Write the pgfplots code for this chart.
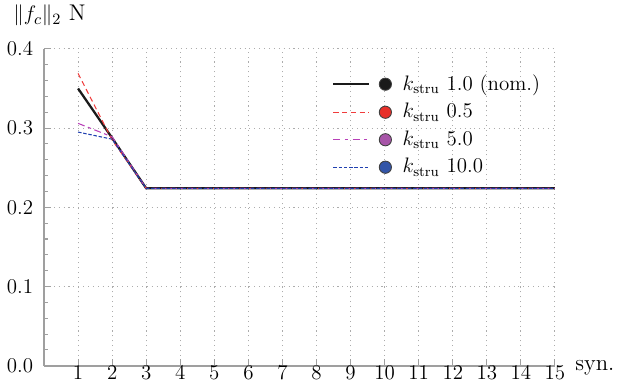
\documentclass[border=0pt,12pt]{standalone}
\usepackage{pgfplots}
\pgfplotsset{compat=1.18}
\definecolor{cblack}{HTML}{1A1A1A}
\definecolor{cred}{HTML}{E8302A}
\definecolor{cpurple}{HTML}{A755A8}
\definecolor{cblue}{HTML}{3355A8}
\definecolor{lred}{HTML}{F03C3C}
\definecolor{lpurple}{HTML}{B840B8}
\definecolor{lblue}{HTML}{2040B0}
\pgfplotsset{
  legimg/.style 2 args={legend image code/.code={
    \draw[#1] (0pt,0pt) -- (20.6pt,0pt);
    \draw[solid, line width=0.5pt, black!75, fill=#2] (29.8pt,0pt) circle (3.5pt);
    \path (36pt,0pt);}}
}
\begin{document}
\begin{tikzpicture}
\begin{axis}[
  name=ax,
  scale only axis,
  width=292.5pt, height=181.4pt,
  xmin=0, xmax=15, ymin=0, ymax=0.4,
  axis lines*=left,
  axis line style={gray!75, line width=1.1pt},
  xtick={1,...,15},
  ytick={0,0.1,0.2,0.3,0.4},
  minor y tick num=4,
  tick style={gray!75, line width=0.6pt},
  major tick length=4pt, minor tick length=2.5pt,
  yticklabel style={/pgf/number format/fixed, /pgf/number format/precision=1, /pgf/number format/fixed zerofill, xshift=-2pt},
  xticklabel style={yshift=4pt, font=\fontsize{13}{15}\selectfont},
  grid=major,
  major grid style={dash pattern=on 0.6pt off 2.2pt, gray!65, line width=0.6pt},
  legend style={draw=none, fill=none, at={(axis cs:8.45,0.370)}, anchor=north west, inner sep=0pt, row sep=3.6pt,
    nodes={inner xsep=3pt, inner ysep=1pt}},
  legend cell align=left,
]
\addplot[cblack, line width=1.3pt, legimg={cblack, line width=1.3pt}{cblack}] coordinates {(1,0.350)(2,0.2875)(3,0.224)(4,0.224)(5,0.224)(6,0.224)(7,0.224)(8,0.224)(9,0.224)(10,0.224)(11,0.224)(12,0.224)(13,0.224)(14,0.224)(15,0.224)};
\addlegendentry{$k_{\mathrm{stru}}$ 1.0 (nom.)}
\addplot[lred, line width=0.6pt, dash pattern=on 3pt off 2pt, legimg={lred, line width=0.8pt, dash pattern=on 3pt off 2pt}{cred}] coordinates {(1,0.369)(2,0.285)(3,0.224)(4,0.224)(5,0.224)(6,0.224)(7,0.224)(8,0.224)(9,0.224)(10,0.224)(11,0.224)(12,0.224)(13,0.224)(14,0.224)(15,0.224)};
\addlegendentry{$k_{\mathrm{stru}}$ 0.5}
\addplot[lpurple, line width=0.6pt, dash pattern=on 4pt off 2pt on 2pt off 2pt, legimg={lpurple, line width=0.8pt, dash pattern=on 4pt off 2.5pt on 2pt off 2.5pt}{cpurple}] coordinates {(1,0.306)(2,0.289)(3,0.224)(4,0.224)(5,0.224)(6,0.224)(7,0.224)(8,0.224)(9,0.224)(10,0.224)(11,0.224)(12,0.224)(13,0.224)(14,0.224)(15,0.224)};
\addlegendentry{$k_{\mathrm{stru}}$ 5.0}
\addplot[lblue, line width=0.6pt, dash pattern=on 2pt off 1pt, legimg={lblue, line width=0.8pt, dash pattern=on 2pt off 1pt}{cblue}] coordinates {(1,0.295)(2,0.286)(3,0.224)(4,0.224)(5,0.224)(6,0.224)(7,0.224)(8,0.224)(9,0.224)(10,0.224)(11,0.224)(12,0.224)(13,0.224)(14,0.224)(15,0.224)};
\addlegendentry{$k_{\mathrm{stru}}$ 10.0}
\end{axis}
\node[anchor=base west, inner sep=0pt, xshift=-17.7pt, yshift=16pt, font=\fontsize{13}{15}\selectfont] at (ax.north west) {$\|f_c\|_2$ N};
\node[anchor=base west, inner sep=0pt, xshift=11.5pt, yshift=-2.9pt, font=\fontsize{13}{15}\selectfont] at (ax.south east) {syn.};
\pgfresetboundingbox
\path[use as bounding box] ([xshift=-25.2pt,yshift=-10.9pt]ax.south west) rectangle ([xshift=42.4pt,yshift=28pt]ax.north east);
\end{tikzpicture}
\end{document}
